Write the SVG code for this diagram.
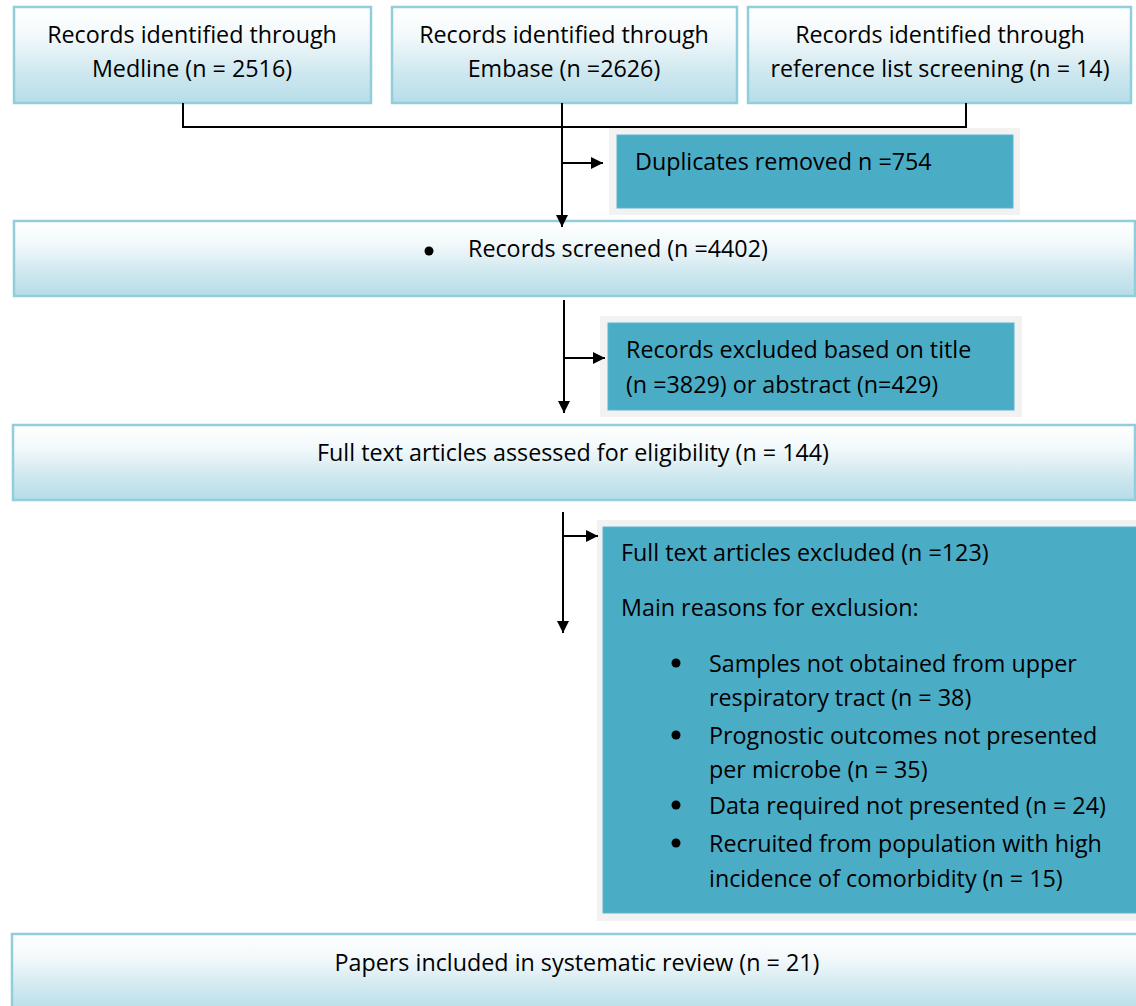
<svg xmlns="http://www.w3.org/2000/svg" width="1136" height="1006" viewBox="0 0 1136 1006">
<defs>
<linearGradient id="g" x1="0" y1="0" x2="0" y2="1">
<stop offset="0" stop-color="#ffffff"/>
<stop offset="0.3" stop-color="#f3f9fb"/>
<stop offset="0.7" stop-color="#cde7ef"/>
<stop offset="1" stop-color="#b6dde8"/>
</linearGradient>
<marker id="ah" viewBox="0 0 10 10" refX="10" refY="5" markerWidth="6.5" markerHeight="6" orient="auto" markerUnits="strokeWidth">
<path d="M0,0 L10,5 L0,10 Z" fill="#000"/>
</marker>
<style>
.box{fill:url(#g);stroke:#92cddc;stroke-width:2.5}
.shadow{fill:#f2f2f2}
.teal{fill:#4bacc6;stroke:#5bb6cd;stroke-width:1}
text{font-family:"Open Sans",Lato,"Liberation Sans",sans-serif;font-size:23.3px;fill:#000}
.c{text-anchor:middle}
.ln{fill:none;stroke:#000;stroke-width:2}
</style>
</defs>
<g id="medline">
<rect class="box" x="14" y="7" width="357" height="96"/>
<text class="c" x="192" y="43">Records identified through</text>
<text class="c" x="192" y="77">Medline (n = 2516)</text>
</g>
<g id="embase">
<rect class="box" x="392" y="7" width="345" height="96"/>
<text class="c" x="564" y="43">Records identified through</text>
<text class="c" x="564" y="77">Embase (n =2626)</text>
</g>
<g id="reflist">
<rect class="box" x="748" y="7" width="383" height="96"/>
<text class="c" x="940" y="43">Records identified through</text>
<text class="c" x="940" y="77">reference list screening (n = 14)</text>
</g>
<g id="duplicates">
<rect class="shadow" x="609" y="128" width="411" height="87"/>
<rect class="teal" x="617" y="135" width="396" height="73"/>
<text x="635" y="170">Duplicates removed n =754</text>
</g>
<g id="screened">
<rect class="box" x="14" y="221" width="1121" height="75"/>
<circle cx="429" cy="251" r="4.5"/>
<text x="468" y="257">Records screened (n =4402)</text>
</g>
<g id="excluded-title">
<rect class="shadow" x="600" y="316" width="422" height="101"/>
<rect class="teal" x="608" y="323" width="406" height="87"/>
<text x="626" y="358">Records excluded based on title</text>
<text x="626" y="393">(n =3829) or abstract (n=429)</text>
</g>
<g id="fulltext">
<rect class="box" x="13" y="425" width="1122" height="75"/>
<text class="c" x="573" y="461">Full text articles assessed for eligibility (n = 144)</text>
</g>
<g id="excluded-fulltext">
<rect class="shadow" x="597" y="520" width="545" height="401"/>
<rect class="teal" x="603" y="527" width="540" height="386"/>
<text x="621" y="561">Full text articles excluded (n =123)</text>
<text x="621" y="616">Main reasons for exclusion:</text>
<circle cx="676" cy="663" r="4.5"/>
<text x="709" y="672">Samples not obtained from upper</text>
<text x="709" y="706">respiratory tract (n = 38)</text>
<circle cx="676" cy="735" r="4.5"/>
<text x="709" y="744">Prognostic outcomes not presented</text>
<text x="709" y="778">per microbe (n = 35)</text>
<circle cx="676" cy="805" r="4.5"/>
<text x="709" y="814">Data required not presented (n = 24)</text>
<circle cx="676" cy="843" r="4.5"/>
<text x="709" y="852">Recruited from population with high</text>
<text x="709" y="887">incidence of comorbidity (n = 15)</text>
</g>
<g id="included">
<rect class="box" x="12" y="934" width="1135" height="80"/>
<text class="c" x="577" y="971">Papers included in systematic review (n = 21)</text>
</g>
<g id="connectors">
<polyline class="ln" points="183,103 183,127 966,127 966,103"/>
<line class="ln" x1="562" y1="103" x2="562" y2="227" marker-end="url(#ah)"/>
<line class="ln" x1="562" y1="163" x2="603" y2="163" marker-end="url(#ah)"/>
<line class="ln" x1="564" y1="300" x2="564" y2="413" marker-end="url(#ah)"/>
<line class="ln" x1="564" y1="358" x2="605" y2="358" marker-end="url(#ah)"/>
<line class="ln" x1="563" y1="512" x2="563" y2="633" marker-end="url(#ah)"/>
<line class="ln" x1="563" y1="536" x2="598" y2="536" marker-end="url(#ah)"/>
</g>
</svg>
